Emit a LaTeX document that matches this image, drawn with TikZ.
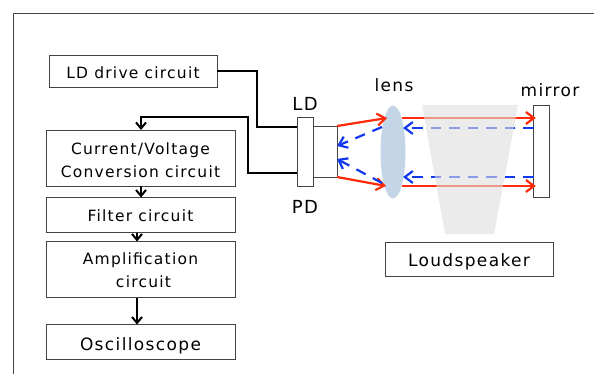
\documentclass[tikz,border=0pt]{standalone}
\usepackage{fontspec}
\setmainfont[LetterSpace=8]{DejaVu Sans}
\usepackage{tikz}
\usetikzlibrary{arrows.meta, positioning, calc, shapes.geometric}
\definecolor{beamred}{HTML}{FF2A0A}
\definecolor{beamblue}{HTML}{1038F0}
\definecolor{lensblue}{HTML}{C3D5E6}
\definecolor{coneGray}{HTML}{DEDEDE}
\definecolor{boxline}{HTML}{444444}
\newcommand{\textdrop}[1]{\rule{0pt}{#1pt}}

\begin{document}
\begin{tikzpicture}[x=1pt, y=-1pt, >={Straight Barb[length=6pt,width=10pt]},
  every node/.style={font=\fontsize{15.5}{23}\selectfont, inner sep=0pt, outer sep=0pt},
  circuit/.style={draw=boxline, line width=0.8pt, align=center, minimum width=189pt},
  bigtext/.style={font=\fontsize{17}{23}\selectfont},
  wire/.style={->, line width=2pt, black},
  redbeam/.style={->, line width=2.2pt, beamred, >={Straight Barb[length=8pt,width=12pt]}},
  bluebeam/.style={->, line width=2.2pt, beamblue, >={Straight Barb[length=8pt,width=12pt]}, dash pattern=on 10.5pt off 8pt}]
\useasboundingbox (0,0) rectangle (594,374);
\draw[boxline, line width=0.8pt] (594,13) -- (13,13) -- (13,374);
% circuit column
\node[circuit, minimum width=168pt, minimum height=32pt] (lddrive) at (133,71) {\textdrop{16}LD drive circuit};
\node[circuit, minimum height=56pt] (conv) at (140.5,158) {\textdrop{16}Current/Voltage\\Conversion circuit};
\node[circuit, minimum height=35pt, below=11.5pt of conv] (filter) {\textdrop{14}Filter circuit};
\node[circuit, minimum height=56pt, below=9pt of filter] (amp) {\textdrop{14}Amplification\\ \hspace{6pt}circuit};
\node[circuit, bigtext, minimum height=35pt, below=27pt of amp] (scope) {\textdrop{21}Oscilloscope};
% optics
\node[draw=boxline, fill=white, line width=0.8pt, minimum width=16pt, minimum height=69pt] (ldplate) at (305,151.5) {};
\node[draw=boxline, fill=white, line width=0.8pt, minimum width=24pt, minimum height=51pt, right=0pt of ldplate] (can) {};
\node[ellipse, fill=lensblue, minimum width=25pt, minimum height=93pt] (lens) at (393,152) {};
\node[draw=boxline, fill=white, line width=0.8pt, minimum width=15.5pt, minimum height=92pt] (mirror) at (541.5,151) {};
\node[circuit, bigtext, minimum width=168pt, minimum height=34pt] (speaker) at (469,259) {\textdrop{19}Loudspeaker};
% labels
\node[font=\fontsize{18}{23}\selectfont] (ldlabel) at (305,104) {LD};
\node[font=\fontsize{18}{23}\selectfont] (pdlabel) at (305,207) {PD};
\node[bigtext] (lenslabel) at (394,85) {lens};
\node[bigtext] (mirrorlabel) at (550,90) {mirror};
% beam ends
\coordinate (lensA) at (387,118);
\coordinate (lensB) at (402,118);
\coordinate (lensC) at (403,128);
\coordinate (lensD) at (382,127);
\coordinate (lensE) at (382,183);
\coordinate (lensF) at (403,177);
\coordinate (lensG) at (386,186);
\coordinate (lensH) at (402,186);
\draw[redbeam] (can.north east) -- (lensA);
\draw[redbeam] (can.south east) -- (lensG);
\draw[redbeam] (lensB) -- ($(mirror.west |- lensB)+(2,0)$);
\draw[redbeam] (lensH) -- ($(mirror.west |- lensH)+(2,0)$);
\draw[bluebeam] (mirror.west |- lensC) -- (lensC);
\draw[bluebeam] (mirror.west |- lensF) -- (lensF);
\draw[bluebeam] (lensD) -- ($(can.east)+(0,-5.5)$);
\draw[bluebeam] (lensE) -- ($(can.east)+(0,7.5)$);
% loudspeaker cone over the beams
\fill[coneGray, opacity=0.6] (422,105) -- (518,105) -- (494,234) -- (445,234) -- cycle;
% wires
\coordinate (ldin) at (ldplate.west |- 0,127);
\coordinate (pdout) at (ldplate.west |- 0,173);
\draw[line width=2pt] (lddrive.east) -- (257,71) -- (257,127) -- (ldin);
\draw[wire] (pdout) -- (248,173) -- (248,117) -- (141,117) -- (conv.north -| 141,0);
\draw[wire] (conv.south -| 141,0) -- (filter.north -| 141,0);
\draw[wire] (filter.south -| 137,0) -- (amp.north -| 137,0);
\draw[wire] (amp.south -| 137,0) -- (scope.north -| 137,0);
\end{tikzpicture}
\end{document}
